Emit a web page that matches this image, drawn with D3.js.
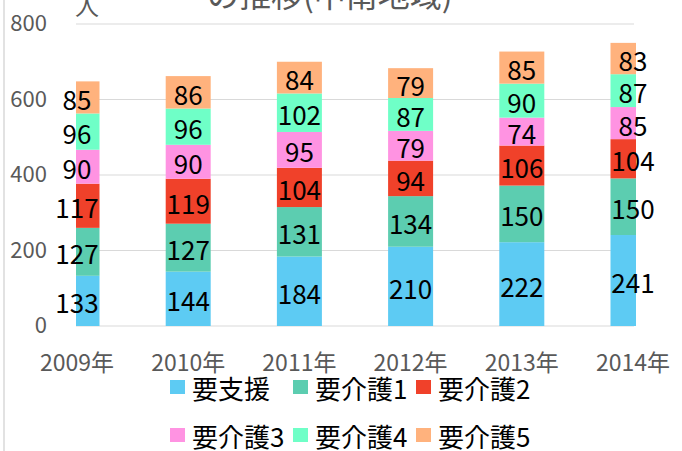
<!DOCTYPE html>
<html>
<head>
<meta charset="utf-8">
<script src="https://cdn.jsdelivr.net/npm/d3@7"></script>
<style>
  body { margin: 0; background: #fff; }
  text { font-family: "Noto Sans CJK JP", "Noto Sans", sans-serif; }
</style>
</head>
<body>
<div id="chart"></div>
<script>
// data
var years = ['2009年', '2010年', '2011年', '2012年', '2013年', '2014年'];
var seriesNames = ['要支援', '要介護1', '要介護2', '要介護3', '要介護4', '要介護5'];
var shien  = [133, 144, 184, 210, 222, 241];
var kaigo1 = [127, 127, 131, 134, 150, 150];
var kaigo2 = [117, 119, 104, 94, 106, 104];
var kaigo3 = [90, 90, 95, 79, 74, 85];
var kaigo4 = [96, 96, 102, 87, 90, 87];
var kaigo5 = [85, 86, 84, 79, 85, 83];
var yTicks = [0, 200, 400, 600, 800];
var colors = ['#5dcbf3', '#5ccdb0', '#f0412a', '#ff93e2', '#6fffc7', '#ffb27d'];

var width = 682, height = 451;
var plot = { left: 76, right: 636, top: 24, bottom: 326 };
var barWidth = 45;

var svg = d3.select('#chart').append('svg')
    .attr('width', width)
    .attr('height', height);

// build rows for the stack
var allSeries = [shien, kaigo1, kaigo2, kaigo3, kaigo4, kaigo5];
var rows = years.map(function (y, i) {
  var r = { year: y };
  seriesNames.forEach(function (s, j) { r[s] = allSeries[j][i]; });
  return r;
});
var stacked = d3.stack().keys(seriesNames)(rows);

var x = d3.scalePoint().domain(years).range([77, 633]);
var yScale = d3.scaleLinear().domain([0, 800]).range([plot.bottom, plot.top]);
var color = d3.scaleOrdinal().domain(seriesNames).range(colors);

// chart border on the left
svg.append('line')
    .attr('x1', 4).attr('x2', 4)
    .attr('y1', 0).attr('y2', height)
    .attr('stroke', '#d9d9d9').attr('stroke-width', 1.5);

// gridlines
svg.append('g').selectAll('line')
    .data(yTicks)
    .enter().append('line')
    .attr('x1', plot.left).attr('x2', plot.right - 2)
    .attr('y1', function (d) { return yScale(d); })
    .attr('y2', function (d) { return yScale(d); })
    .attr('stroke', '#d9d9d9').attr('stroke-width', 1.2);

// y tick labels
svg.append('g').selectAll('text')
    .data(yTicks)
    .enter().append('text')
    .attr('x', 47)
    .attr('y', function (d) { return yScale(d) + 7; })
    .attr('text-anchor', 'end')
    .style('font-size', '22px')
    .style('fill', '#595959')
    .text(function (d) { return d; });

// clip the bars like the picture
svg.append('clipPath').attr('id', 'plotclip')
  .append('rect')
    .attr('x', plot.left).attr('y', 0)
    .attr('width', plot.right - plot.left).attr('height', height);

var barG = svg.append('g').attr('clip-path', 'url(#plotclip)');
barG.selectAll('g')
    .data(stacked)
    .enter().append('g')
    .style('fill', function (d) { return color(d.key); })
    .selectAll('rect')
    .data(function (d) { return d; })
    .enter().append('rect')
    .attr('x', function (d) { return x(d.data.year) - barWidth / 2; })
    .attr('y', function (d) { return yScale(d[1]); })
    .attr('width', barWidth)
    .attr('height', function (d) { return yScale(d[0]) - yScale(d[1]); });

// value labels
svg.append('g').selectAll('g')
    .data(stacked)
    .enter().append('g')
    .selectAll('text')
    .data(function (d) { return d; })
    .enter().append('text')
    .attr('x', function (d) { return x(d.data.year); })
    .attr('y', function (d) { return yScale((d[0] + d[1]) / 2) + 1; })
    .attr('text-anchor', 'middle')
    .attr('dominant-baseline', 'central')
    .style('font-size', '26px')
    .style('fill', '#000')
    .text(function (d) { return d[1] - d[0]; });

// x labels
svg.append('g').selectAll('text')
    .data(years)
    .enter().append('text')
    .attr('x', function (d) { return x(d); })
    .attr('y', 371)
    .attr('text-anchor', 'middle')
    .style('font-size', '23px')
    .style('fill', '#595959')
    .text(function (d) { return d; });

// title, cut off at the top
svg.append('text')
    .attr('x', 207).attr('y', 7)
    .style('font-size', '32px')
    .style('fill', '#595959')
    .text('の推移(中南地域)');

svg.append('text')
    .attr('x', 75).attr('y', 15)
    .style('font-size', '24px')
    .style('fill', '#595959')
    .text('人');

// legend, two rows of three
var legend = svg.append('g').selectAll('g')
    .data(seriesNames)
    .enter().append('g')
    .attr('transform', function (d, i) {
      return 'translate(' + (170 + (i % 3) * 123) + ',' + (387 + Math.floor(i / 3) * 48) + ')';
    });
legend.append('rect')
    .attr('x', 0).attr('y', -7)
    .attr('width', 15).attr('height', 14)
    .style('fill', function (d) { return color(d); });
legend.append('text')
    .attr('x', 22).attr('y', 0)
    .attr('dominant-baseline', 'central')
    .style('font-size', '26px')
    .style('fill', '#000')
    .text(function (d) { return d; });
</script>
</body>
</html>
